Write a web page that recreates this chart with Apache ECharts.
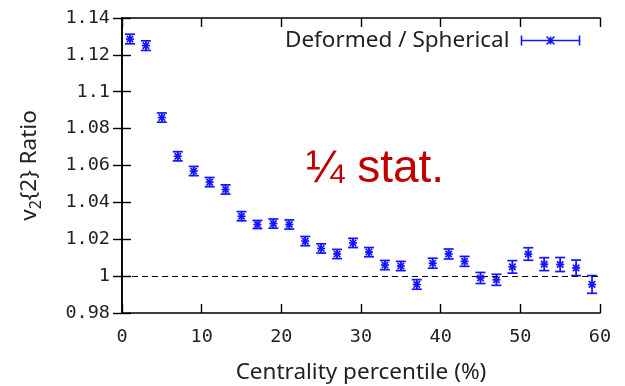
<!DOCTYPE html>
<html>
<head>
<meta charset="utf-8">
<script src="https://cdn.jsdelivr.net/npm/echarts@6/dist/echarts.min.js"></script>
<style>html,body{margin:0;padding:0;background:#fff}#c{width:625px;height:386px}</style>
</head>
<body>
<div id="c"></div>
<script>
const centrality = [1,3,5,7,9,11,13,15,17,19,21,23,25,27,29,31,33,35,37,39,41,43,45,47,49,51,53,55,57,59];
const ratio = [1.1286,1.125,1.086,1.065,1.057,1.051,1.047,1.0325,1.028,1.0285,1.028,1.019,1.015,1.012,1.018,1.013,1.006,1.0055,0.9955,1.007,1.012,1.008,0.999,0.998,1.005,1.012,1.0065,1.0063,1.0045,0.9955];
const ratioErr = [0.0026,0.0026,0.0025,0.0025,0.0025,0.0025,0.0025,0.0025,0.0022,0.0025,0.0025,0.0025,0.0025,0.0025,0.0025,0.0025,0.0025,0.0025,0.0026,0.0027,0.0027,0.0027,0.003,0.003,0.0034,0.0034,0.0035,0.0038,0.0042,0.0048];
const yTicks = [0.98,1.14,0.02];
const xTicks = [0,60,10];
const seriesName = 'Deformed / Spherical';
const blue = '#1414ff';

const data = centrality.map((c,i)=>[c, ratio[i], ratioErr[i]]);

function renderItem(params, api){
  const x = api.value(0), y = api.value(1), e = api.value(2);
  const p = api.coord([x,y]);
  const hi = api.coord([x,y+e]);
  const lo = api.coord([x,y-e]);
  const cw = 5, s = 4;
  const st = {stroke: blue, lineWidth: 1.7, fill: null};
  const L = (x1,y1,x2,y2)=>({type:'line', shape:{x1,y1,x2,y2}, style:st});
  return {type:'group', children:[
    L(p[0],hi[1],p[0],lo[1]),
    L(p[0]-cw,hi[1],p[0]+cw,hi[1]),
    L(p[0]-cw,lo[1],p[0]+cw,lo[1]),
    L(p[0]-s,p[1],p[0]+s,p[1]),
    L(p[0],p[1]-s,p[0],p[1]+s),
    L(p[0]-s*0.8,p[1]-s*0.8,p[0]+s*0.8,p[1]+s*0.8),
    L(p[0]-s*0.8,p[1]+s*0.8,p[0]+s*0.8,p[1]-s*0.8)
  ]};
}

const tickFont = {fontFamily:'DejaVu Sans Mono', fontSize:18.5, color:'#222'};
const axisLine = {show:true, lineStyle:{color:'#000', width:1.6}};
const axisTick = {show:true, inside:true, length:9, lineStyle:{color:'#000', width:1.4}};
const titleFont = {fontFamily:'Noto Sans', fontSize:22.5, color:'#222'};

const chart = echarts.init(document.getElementById('c'), null, {renderer:'canvas'});
chart.setOption({
  animation:false,
  backgroundColor:'#fff',
  grid:{left:122, right:25, top:18, bottom:73, outerBoundsMode:'none', containLabel:false},
  legend:{
    show:true, right:43, top:29, align:'right', padding:0,
    itemWidth:58, itemHeight:10, itemGap:0,
    textStyle:Object.assign({padding:[0,7,0,0]}, titleFont),
    data:[{name:seriesName,
      icon:'path://M0,0 L0,10 M0,5 L58,5 M58,0 L58,10 M25,1 L33,9 M25,9 L33,1 M29,1 L29,9',
      itemStyle:{color:'none', borderColor:blue, borderWidth:1.6}}]
  },
  xAxis:[
    {type:'value', min:xTicks[0], max:xTicks[1], interval:xTicks[2], position:'bottom',
     axisLine, axisTick, splitLine:{show:false},
     axisLabel:Object.assign({margin:15}, tickFont),
     name:'Centrality percentile (%)', nameLocation:'middle', nameGap:48,
     nameTextStyle:titleFont},
    {type:'value', min:xTicks[0], max:xTicks[1], interval:xTicks[2], position:'top',
     axisLine, axisTick, axisLabel:{show:false}, splitLine:{show:false}}
  ],
  yAxis:[
    {type:'value', min:yTicks[0], max:yTicks[1], interval:yTicks[2], position:'left',
     axisLine, axisTick, splitLine:{show:false},
     axisLabel:Object.assign({margin:12, formatter:v=>String(+v.toFixed(2))}, tickFont),
     name:'{a|v}{s|2}{a|{2}} Ratio', nameLocation:'middle', nameGap:78,
     nameTextStyle:Object.assign({lineHeight:28, rich:{
       a:Object.assign({lineHeight:28, verticalAlign:'middle'}, titleFont),
       s:{fontFamily:'Noto Sans', fontSize:16, color:'#222', lineHeight:28, verticalAlign:'bottom', padding:[10,0,0,0]}
     }}, titleFont)},
    {type:'value', min:yTicks[0], max:yTicks[1], interval:yTicks[2], position:'right',
     axisLine, axisTick, axisLabel:{show:false}, splitLine:{show:false}}
  ],
  series:[{
    name:seriesName, type:'custom', renderItem, data,
    encode:{x:0, y:1},
    itemStyle:{color:blue},
    markLine:{silent:true, symbol:'none', label:{show:false},
      lineStyle:{color:'#000', type:[6,4], width:1.2},
      data:[{yAxis:1}]}
  }],
  graphic:[{type:'text', left:306, top:146,
    style:{text:'¼ stat.', fontFamily:'Liberation Sans', fontSize:46, fill:'#c00000'}}]
});
</script>
</body>
</html>
